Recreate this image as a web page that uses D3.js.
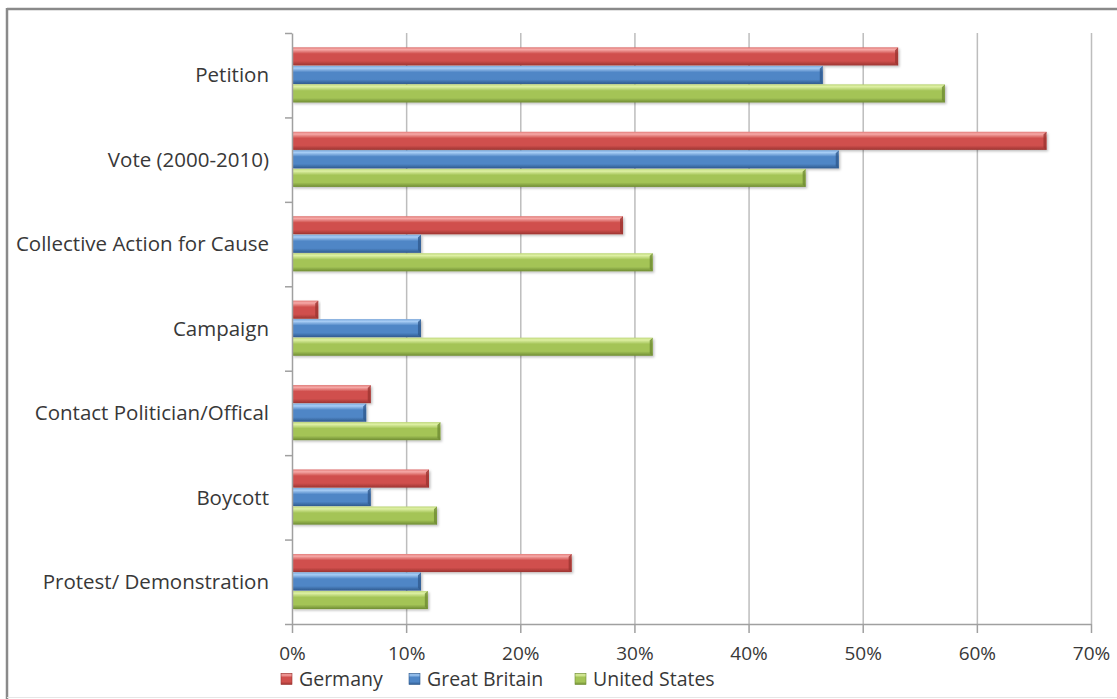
<!DOCTYPE html>
<html><head><meta charset="utf-8">
<script src="https://cdn.jsdelivr.net/npm/d3@7"></script>
<style>
html,body{margin:0;padding:0;background:#fff;}
svg{display:block;font-family:"Open Sans",Lato,sans-serif;}
</style></head>
<body><svg id="chart" width="1117" height="699"></svg>
<script>
const categories = ["Petition","Vote (2000-2010)","Collective Action for Cause","Campaign","Contact Politician/Offical","Boycott","Protest/ Demonstration"];
const seriesNames = ["Germany","Great Britain","United States"];
const germany = [53.1, 66.1, 29.0, 2.3, 6.9, 12.0, 24.5];
const greatBritain = [46.5, 47.9, 11.3, 11.3, 6.5, 6.9, 11.3];
const unitedStates = [57.2, 45.0, 31.6, 31.6, 13.0, 12.7, 11.9];
const tickValues = [0,10,20,30,40,50,60,70];

const seriesValues = [germany, greatBritain, unitedStates];
const colors = {
  "Germany": {light:"#f6a9a7", main:"#d0504d", dark:"#9c3431"},
  "Great Britain": {light:"#a7cdf5", main:"#4f86c6", dark:"#2f5a8e"},
  "United States": {light:"#def0a4", main:"#a4c457", dark:"#6f8c33"}
};
const textColor = "#383838";

const svg = d3.select("#chart");
const defs = svg.append("defs");
seriesNames.forEach((s,i)=>{
  const c = colors[s];
  const g = defs.append("linearGradient").attr("id","g"+i).attr("x1",0).attr("y1",0).attr("x2",0).attr("y2",1);
  g.append("stop").attr("offset","0%").attr("stop-color",c.main);
  g.append("stop").attr("offset","12%").attr("stop-color",c.light);
  g.append("stop").attr("offset","35%").attr("stop-color",c.main);
  g.append("stop").attr("offset","75%").attr("stop-color",c.main);
  g.append("stop").attr("offset","100%").attr("stop-color",c.dark);
});
const flt = defs.append("filter").attr("id","sh").attr("x","-5%").attr("y","-20%").attr("width","115%").attr("height","160%");
flt.append("feDropShadow").attr("dx",1.5).attr("dy",1.5).attr("stdDeviation",1.2).attr("flood-color","#000").attr("flood-opacity",0.25);

// outer frame (cropped on the right)
svg.append("line").attr("x1",7).attr("x2",1117).attr("y1",9).attr("y2",9).attr("stroke","#8a8a8a").attr("stroke-width",2.5);
svg.append("line").attr("x1",7).attr("x2",7).attr("y1",8).attr("y2",699).attr("stroke","#8a8a8a").attr("stroke-width",2.5);
svg.append("line").attr("x1",7).attr("x2",1117).attr("y1",697.5).attr("y2",697.5).attr("stroke","#e6e6e6").attr("stroke-width",1);

const plotLeft = 292, plotRight = 1091, plotTop = 33, plotBottom = 624;
const x = d3.scaleLinear().domain([0,70]).range([plotLeft,plotRight]);
const y0 = d3.scaleBand().domain(categories).range([plotTop,plotBottom]).padding(0);
const y1 = d3.scaleBand().domain(seriesNames).range([0,y0.bandwidth()]).paddingInner(0).paddingOuter(0.78);

// gridlines
svg.append("g").selectAll("line").data(tickValues.filter(d=>d>0)).join("line")
  .attr("x1",d=>x(d)+0.5).attr("x2",d=>x(d)+0.5).attr("y1",plotTop).attr("y2",plotBottom)
  .attr("stroke","#bdbdbd").attr("stroke-width",1.5);

// bars
const groups = svg.append("g").selectAll("g").data(categories).join("g")
  .attr("transform",c=>`translate(0,${y0(c)})`);
groups.selectAll("g.bar").data((c,ci)=>seriesNames.map((s,si)=>({s,si,v:seriesValues[si][ci]}))).join("g")
  .attr("class","bar").each(function(d){
    const g = d3.select(this);
    const yy = y1(d.s), h = y1.bandwidth()-0.5, w = x(d.v)-x(0);
    const c = colors[d.s];
    g.append("rect").attr("x",x(0)).attr("y",yy).attr("width",w).attr("height",h)
      .attr("fill",`url(#g${d.si})`).attr("filter","url(#sh)");
    const ex = x(d.v);
    g.append("path").attr("d",`M${ex-3},${yy+2.5}L${ex},${yy}L${ex},${yy+h}L${ex-3},${yy+h-2.5}Z`)
      .attr("fill",c.dark).attr("opacity",0.8);
    g.append("path").attr("d",`M${x(0)},${yy}L${ex},${yy}L${ex-3},${yy+2.5}L${x(0)+2},${yy+2.5}Z`)
      .attr("fill",c.light).attr("opacity",0.5);
  });

// x axis
const xAxis = d3.axisBottom(x).tickValues(tickValues).tickFormat(d=>d+"%").tickSize(9).tickSizeOuter(0);
const xg = svg.append("g").attr("transform",`translate(0,${plotBottom})`).call(xAxis);
xg.select(".domain").attr("stroke","#a0a0a0").attr("stroke-width",1.5);
xg.selectAll(".tick line").attr("stroke","#a0a0a0").attr("stroke-width",1.5);
xg.selectAll(".tick text").attr("fill",textColor).attr("font-size",19)
  .attr("font-family","'Open Sans',sans-serif").attr("y",29).attr("dy","0.35em");

// y axis
const yAxis = d3.axisLeft(d3.scaleLinear().domain([0,categories.length]).range([plotTop,plotBottom]))
  .ticks(categories.length).tickFormat("").tickSize(7).tickSizeOuter(0);
const yg = svg.append("g").attr("transform",`translate(${plotLeft},0)`).call(yAxis);
yg.select(".domain").attr("stroke","#a0a0a0").attr("stroke-width",1.5);
yg.selectAll(".tick line").attr("stroke","#a0a0a0").attr("stroke-width",1.5);

// category labels
svg.append("g").selectAll("text").data(categories).join("text")
  .attr("x",269).attr("y",c=>y0(c)+y0.bandwidth()/2).attr("dy","0.35em")
  .attr("text-anchor","end").attr("font-size",20.5).attr("fill",textColor).text(c=>c);

// legend
const legendX = [281, 409, 575];
const lg = svg.append("g").selectAll("g").data(seriesNames).join("g")
  .attr("transform",(s,i)=>`translate(${legendX[i]},679.5)`);
lg.append("rect").attr("x",0).attr("y",-6).attr("width",11).attr("height",11)
  .attr("fill",(s,i)=>`url(#g${i})`).attr("stroke",(s)=>colors[s].dark).attr("stroke-width",0.6);
lg.append("text").attr("x",18).attr("y",0).attr("dy","0.35em").attr("font-size",19.5).attr("fill",textColor).text(s=>s);
</script></body></html>
